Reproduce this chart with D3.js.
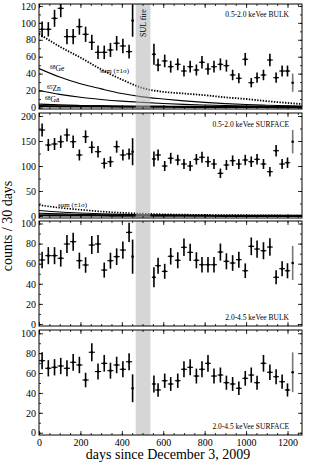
<!DOCTYPE html>
<html>
<head>
<meta charset="utf-8">
<script src="https://cdn.jsdelivr.net/npm/d3@7/dist/d3.min.js"></script>
<style>
body { margin: 0; background: #fff; }
text { font-family: "Liberation Serif", "DejaVu Serif", serif; fill: #000; }
</style>
</head>
<body>
<script>
// bin centres (days since Dec 3 2009); the two partial bins have width 0
var days = [15, 45, 75, 105, 135, 165, 195, 225, 255, 285, 315, 345, 375, 405, 435, 452,
  555, 575, 607, 636, 670, 700, 730, 760, 787, 816, 845, 876, 905, 935, 965, 996,
  1025, 1053, 1084, 1115, 1145, 1174, 1200, 1225];
var binWidth = [30, 30, 30, 30, 30, 30, 30, 30, 30, 30, 30, 30, 30, 30, 30, 0,
  20, 28, 28, 28, 28, 28, 28, 28, 28, 28, 28, 28, 28, 28, 28, 28,
  28, 28, 28, 28, 28, 28, 26, 0];

var bulkLow = [92.4, 92.4, 105.4, 117.2, 83.7, 83.7, 95.5, 86.5, 77, 65.2, 65.2, 68, 75.9, 72.7, 66, 102.6,
  62.9, 50.2, 55, 48.2, 51, 43.1, 48.2, 44.3, 53.4, 45.5, 48.2, 51, 49.4, 38.4, 34.5, 57,
  29.3, 35.2, 38.4, 56.1, 35.2, 43.1, 43.1, 29.3];
var bulkLowErr = [9.3, 8.5, 10, 10.5, 9, 9, 9.5, 9, 9, 8, 8, 8.3, 8.6, 8.5, 8, 19,
  12.5, 7.5, 7.5, 7, 7, 6.5, 7, 6.5, 7.3, 6.7, 7, 7, 7, 6.2, 6, 7.5,
  5.5, 6, 6.2, 7.5, 6, 6.5, 6.5, 10.8];

var surfLow = [172, 142, 144, 148.6, 162, 148.6, 122, 158.6, 137.4, 128.6, 105.4, 108.6, 138.6, 122, 124, 128.6,
  114, 122, 100, 115.4, 112, 104, 100, 113.4, 117.4, 108.6, 104, 85.4, 102, 110.6, 104, 112,
  108.6, 113.4, 104, 88.6, 130.6, 104, 106.6, 148.6];
var surfLowErr = [13, 12, 12, 12.5, 13, 12.5, 11, 12.6, 12, 11.5, 10.5, 10.5, 12, 11, 11, 27,
  15, 11, 10, 11, 10.5, 10, 10, 10.5, 11, 10.5, 10, 9.5, 10, 10.5, 10, 10.5,
  10.5, 10.5, 10, 9.5, 11.5, 10, 10.5, 23.5];

var bulkHigh = [63.7, 68, 68, 65.4, 79.6, 81.9, 63, 58.7, 78.6, 79.6, 53.7, 63, 67, 73.6, 91.2, 67,
  46.5, 58, 52.4, 67.4, 63.4, 76.3, 71.3, 63.4, 59, 59, 59, 71.6, 62.4, 60.7, 64, 53,
  77.3, 74.6, 72.9, 76.6, 46.5, 55, 53, 60.7];
var bulkHighErr = [8.3, 8.5, 8.5, 8.3, 9, 9, 8, 7.7, 9, 9, 7.5, 8, 8.3, 8.6, 9.5, 17,
  10, 8, 7.5, 8.3, 8, 8.7, 8.5, 8, 7.7, 7.7, 7.7, 8.5, 8, 7.8, 8, 7.3,
  8.8, 8.6, 8.5, 8.7, 7, 7.5, 7.5, 17];

var surfHigh = [72.4, 64.8, 65.8, 67.1, 64.8, 70.8, 68.1, 53, 80.9, 61.5, 69.8, 62.4, 68.1, 63.8, 71.4, 44.7,
  49, 43, 52.3, 49, 52.3, 63.8, 65.8, 57, 63.8, 69.8, 57, 58, 50.3, 49, 44.7, 54.7,
  58, 50.3, 69.8, 60.8, 56.3, 51.3, 43, 60.8];
var surfHighErr = [8.5, 8.2, 8.2, 8.2, 8, 8.4, 8.3, 7.3, 9, 8, 8.4, 8, 8.3, 8, 8.5, 14,
  8.5, 6.8, 7.2, 7, 7.2, 8, 8.1, 7.5, 8, 8.4, 7.5, 7.6, 7.1, 7, 6.7, 7.4,
  7.6, 7.1, 8.4, 7.8, 7.5, 7.2, 6.6, 20];

var curveDays = [0, 100, 200, 300, 400, 500, 600, 700, 800, 900, 1000, 1100, 1270];
var bulkSum = [87, 72, 59, 45, 33, 23, 18.5, 16.5, 14.5, 12, 10, 7.5, 4];
var bulkGe68 = [46, 36, 28, 22, 16.5, 12.5, 10, 7.8, 6, 4.6, 3.5, 2.7, 1.8];
var bulkZn65 = [20, 15.5, 12, 9.5, 7.5, 6, 4.7, 3.7, 2.9, 2.3, 1.8, 1.4, 0.9];
var bulkGa68 = [4, 3.1, 2.4, 1.9, 1.4, 1.1, 0.9, 0.7, 0.5, 0.4, 0.3, 0.25, 0.2];
var bulkRest = [1.5, 1.4, 1.3, 1.2, 1.1, 1, 0.9, 0.8, 0.75, 0.7, 0.6, 0.55, 0.5];
var surfSum = [22, 16.5, 12.5, 9, 6.5, 4.8, 3.5, 2.8, 2.3, 1.9, 1.6, 1.3, 1];
var surfA = [11, 8, 6, 4.5, 3.3, 2.5, 1.9, 1.5, 1.2, 0.9, 0.7, 0.6, 0.5];
var surfB = [5.5, 4.2, 3.2, 2.5, 1.9, 1.5, 1.1, 0.9, 0.7, 0.6, 0.5, 0.4, 0.3];
var surfRest = [1.5, 1.3, 1.1, 1, 0.9, 0.8, 0.7, 0.6, 0.5, 0.45, 0.4, 0.35, 0.3];

var fire = [467, 538];
var xTicks = [0, 200, 400, 600, 800, 1000, 1200];
var yTicks1 = [0, 20, 40, 60, 80, 100, 120];
var yTicks2 = [0, 50, 100, 150, 200];
var yTicks34 = [0, 20, 40, 60, 80, 100];

var svg = d3.select("body").append("svg")
  .attr("width", 310)
  .attr("height", 466);

var x = d3.scaleLinear().domain([0, 1270]).range([39, 302]);

var panels = [
  { vals: bulkLow, errs: bulkLowErr, top: 4, bottom: 109, dom: [-1.8, 122.3], ticks: yTicks1, minor: 10,
    label: "0.5-2.0 keVee BULK", labelY: 17 },
  { vals: surfLow, errs: surfLowErr, top: 113, bottom: 218, dom: [-4, 206], ticks: yTicks2, minor: 25,
    label: "0.5-2.0 keVee SURFACE", labelY: 126.5 },
  { vals: bulkHigh, errs: bulkHighErr, top: 221, bottom: 326, dom: [-2, 102.5], ticks: yTicks34, minor: 10,
    label: "2.0-4.5 keVee BULK", labelY: 320 },
  { vals: surfHigh, errs: surfHighErr, top: 330, bottom: 435, dom: [-2.3, 103.3], ticks: yTicks34, minor: 10,
    label: "2.0-4.5 keVee SURFACE", labelY: 429 }
];

function line(y) {
  return d3.line()
    .x(function(d, i) { return x(curveDays[i]); })
    .y(function(d) { return y(d); })
    .curve(d3.curveMonotoneX);
}

function tickRange(a, b, step) {
  var out = [];
  for (var v = Math.ceil(a / step) * step; v <= b; v += step) out.push(v);
  return out;
}

panels.forEach(function(p, k) {
  var y = d3.scaleLinear().domain(p.dom).range([p.bottom, p.top]);
  var g = svg.append("g");

  var clipId = "clip" + k;
  svg.append("clipPath").attr("id", clipId)
    .append("rect")
    .attr("x", 39).attr("y", p.top)
    .attr("width", 263).attr("height", p.bottom - p.top);
  var plot = g.append("g").attr("clip-path", "url(#" + clipId + ")");

  // model curves
  if (k == 0) {
    [bulkRest, bulkGa68, bulkZn65, bulkGe68].forEach(function(c, j) {
      plot.append("path").datum(c)
        .attr("d", line(y))
        .attr("fill", "none")
        .attr("stroke", "#000")
        .attr("stroke-width", j == 0 ? 2.2 : 1.1);
    });
    plot.append("path").datum(bulkSum)
      .attr("d", line(y))
      .attr("fill", "none")
      .attr("stroke", "#000")
      .attr("stroke-width", 1.8)
      .attr("stroke-dasharray", "1.4,1.4");
  }
  if (k == 1) {
    [surfRest, surfB, surfA].forEach(function(c, j) {
      plot.append("path").datum(c)
        .attr("d", line(y))
        .attr("fill", "none")
        .attr("stroke", "#000")
        .attr("stroke-width", j == 0 ? 2.2 : 1.1);
    });
    plot.append("path").datum(surfSum)
      .attr("d", line(y))
      .attr("fill", "none")
      .attr("stroke", "#000")
      .attr("stroke-width", 1.6)
      .attr("stroke-dasharray", "1.4,1.4");
  }

  // SUL fire band
  plot.append("rect")
    .attr("x", x(fire[0]))
    .attr("width", x(fire[1]) - x(fire[0]))
    .attr("y", p.top)
    .attr("height", p.bottom - p.top)
    .attr("fill", "#b4b4b4")
    .attr("opacity", 0.55);

  // data points
  var pts = plot.selectAll("g.pt")
    .data(p.vals)
    .enter().append("g")
    .attr("class", "pt");
  pts.append("line")
    .attr("x1", function(d, i) { return x(days[i]); })
    .attr("x2", function(d, i) { return x(days[i]); })
    .attr("y1", function(d, i) { return y(d - p.errs[i]); })
    .attr("y2", function(d, i) { return y(d + p.errs[i]); })
    .attr("stroke", function(d, i) { return i == days.length - 1 ? "#777" : "#000"; })
    .attr("stroke-width", 1.6);
  pts.each(function(d, i) {
    if (binWidth[i] > 0) {
      d3.select(this).append("line")
        .attr("x1", x(days[i] - binWidth[i] / 2))
        .attr("x2", x(days[i] + binWidth[i] / 2))
        .attr("y1", y(d))
        .attr("y2", y(d))
        .attr("stroke", "#000")
        .attr("stroke-width", 1.1);
    }
  });
  pts.append("circle")
    .attr("cx", function(d, i) { return x(days[i]); })
    .attr("cy", function(d) { return y(d); })
    .attr("r", 1.3)
    .attr("fill", "#000");

  // axes, ticks pointing inward on all four sides
  g.append("g").attr("transform", "translate(39,0)")
    .call(d3.axisLeft(y).tickValues(p.ticks).tickSize(-4).tickPadding(3));
  g.append("g").attr("transform", "translate(39,0)")
    .call(d3.axisLeft(y).tickValues(tickRange(p.dom[0], p.dom[1], p.minor)).tickSize(-2).tickFormat(""));
  g.append("g").attr("transform", "translate(302,0)")
    .call(d3.axisRight(y).tickValues(p.ticks).tickSize(-4).tickFormat(""));
  g.append("g").attr("transform", "translate(302,0)")
    .call(d3.axisRight(y).tickValues(tickRange(p.dom[0], p.dom[1], p.minor)).tickSize(-2).tickFormat(""));

  g.append("g").attr("transform", "translate(0," + p.bottom + ")")
    .call(d3.axisBottom(x).tickValues(xTicks).tickSize(-4).tickPadding(4)
      .tickFormat(k == 3 ? d3.format("d") : ""));
  g.append("g").attr("transform", "translate(0," + p.bottom + ")")
    .call(d3.axisBottom(x).tickValues(tickRange(0, 1270, 50)).tickSize(-2).tickFormat(""));
  g.append("g").attr("transform", "translate(0," + p.top + ")")
    .call(d3.axisTop(x).tickValues(xTicks).tickSize(-4).tickFormat(""));
  g.append("g").attr("transform", "translate(0," + p.top + ")")
    .call(d3.axisTop(x).tickValues(tickRange(0, 1270, 50)).tickSize(-2).tickFormat(""));

  g.selectAll(".domain").remove();
  g.selectAll(".tick line").attr("stroke", "#000").attr("stroke-width", 0.8);
  g.selectAll(".tick text")
    .style("font-family", "'Liberation Serif', serif")
    .style("font-size", "10px")
    .attr("fill", "#000");

  g.append("rect")
    .attr("x", 39).attr("y", p.top)
    .attr("width", 263).attr("height", p.bottom - p.top)
    .attr("fill", "none")
    .attr("stroke", "#000")
    .attr("stroke-width", 1);

  g.append("text")
    .attr("x", 289)
    .attr("y", p.labelY)
    .attr("text-anchor", "end")
    .style("font-size", "7.5px")
    .text(p.label);
});

// curve labels
function iso(xx, yy, mass, el) {
  var t = svg.append("text").attr("x", xx).attr("y", yy).style("font-size", "7.5px");
  t.append("tspan").attr("dy", -2.5).style("font-size", "5.5px").text(mass);
  t.append("tspan").attr("dy", 2.5).text(el);
}
iso(50, 71, "68", "Ge");
iso(47, 91, "65", "Zn");
iso(45, 102, "68", "Ga");

svg.append("text").attr("x", 100).attr("y", 73)
  .style("font-size", "7px").text("sum (\u00b11\u03c3)");
svg.append("text").attr("x", 58).attr("y", 207)
  .style("font-size", "7px").text("sum (\u00b11\u03c3)");

svg.append("text")
  .attr("transform", "translate(" + (x((fire[0] + fire[1]) / 2) + 2.5) + ",37) rotate(-90)")
  .style("font-size", "8px")
  .attr("fill", "#222")
  .text("SUL fire");

svg.append("text")
  .attr("x", 168)
  .attr("y", 459)
  .attr("text-anchor", "middle")
  .style("font-size", "14px")
  .text("days since December 3, 2009");

svg.append("text")
  .attr("transform", "translate(12,226) rotate(-90)")
  .attr("text-anchor", "middle")
  .style("font-size", "14px")
  .text("counts / 30 days");
</script>
</body>
</html>
